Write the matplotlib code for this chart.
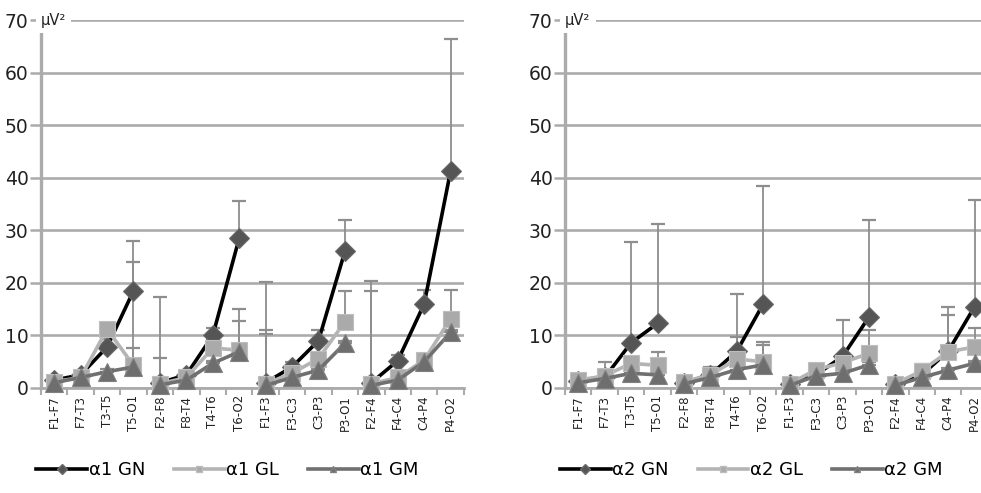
import numpy as np
import matplotlib
matplotlib.use("Agg")
import matplotlib.pyplot as plt
from matplotlib.lines import Line2D

plt.rcParams['font.family'] = ['DejaVu Sans']

pairs = ['F1-F7', 'F7-T3', 'T3-T5', 'T5-O1',
         'F2-F8', 'F8-T4', 'T4-T6', 'T6-O2',
         'F1-F3', 'F3-C3', 'C3-P3', 'P3-O1',
         'F2-F4', 'F4-C4', 'C4-P4', 'P4-O2']
groups = ['GN', 'GL', 'GM']

# alpha1 band, mean and upper error (muV^2)
a1_gn = [1.5, 2.5, 7.8, 18.5, 1.0, 2.5, 10.0, 28.5, 1.0, 4.0, 9.0, 26.0, 1.0, 5.2, 16.0, 41.3]
a1_gn_err = [0.8, 0.8, 1.5, 9.5, 16.4, 0.8, 1.5, 7.0, 19.2, 1.0, 2.0, 6.0, 19.3, 1.0, 2.6, 25.2]
a1_gl = [1.2, 2.0, 11.2, 4.3, 0.8, 2.0, 7.6, 7.2, 0.8, 2.8, 5.6, 12.6, 0.8, 2.0, 5.3, 13.2]
a1_gl_err = [0.8, 0.8, 0.5, 19.7, 4.9, 0.8, 1.5, 7.9, 10.3, 0.8, 1.0, 5.8, 17.7, 0.8, 1.0, 5.5]
a1_gm = [1.0, 2.0, 3.1, 4.0, 0.6, 1.5, 4.7, 6.9, 0.5, 2.0, 3.4, 8.5, 0.5, 1.5, 5.0, 10.6]
a1_gm_err = [0.5, 0.5, 0.5, 3.7, 0.5, 0.5, 0.5, 5.8, 9.7, 0.5, 0.5, 0.5, 0.5, 0.5, 0.5, 0.5]

# alpha2 band
a2_gn = [1.3, 2.0, 8.6, 12.3, 1.0, 2.5, 7.0, 16.0, 0.8, 2.5, 6.0, 13.5, 0.8, 2.5, 7.0, 15.5]
a2_gn_err = [0.8, 3.0, 19.1, 19.0, 0.8, 1.0, 10.8, 22.4, 0.8, 1.0, 7.0, 18.5, 0.8, 1.0, 8.5, 20.3]
a2_gl = [1.5, 2.3, 4.7, 4.3, 1.2, 2.5, 5.5, 5.0, 0.8, 3.5, 4.8, 6.6, 0.8, 3.3, 6.9, 7.8]
a2_gl_err = [0.5, 0.8, 1.0, 2.5, 0.5, 1.5, 4.2, 3.7, 0.5, 0.8, 1.0, 4.4, 0.5, 1.2, 6.9, 3.7]
a2_gm = [1.0, 1.8, 2.8, 2.5, 0.8, 2.0, 3.5, 4.4, 0.5, 2.3, 2.8, 4.4, 0.5, 2.0, 3.4, 4.7]
a2_gm_err = [0.5, 0.5, 0.5, 0.5, 0.5, 0.5, 0.5, 3.7, 0.5, 0.5, 0.5, 0.5, 0.5, 0.5, 0.5, 0.5]

styles = {
    'GN': dict(color='black', marker='D', mfc='#555555', mec='#6a6a6a', ms=10.5, lw=2.6),
    'GL': dict(color='#b4b4b4', marker='s', mfc='#aaaaaa', mec='#bdbdbd', ms=12, lw=2.6),
    'GM': dict(color='#707070', marker='^', mfc='#6e6e6e', mec='#808080', ms=13.5, lw=2.6),
}
grid_col = '#ababab'


def draw_panel(ax, band, series):
    x = np.arange(len(pairs))
    for g, (vals, err) in zip(groups, series):
        vals = np.array(vals)
        err = np.array(err)
        ax.errorbar(x, vals, yerr=[np.zeros_like(err), err], fmt='none',
                    ecolor='#8e8e8e', elinewidth=1.3, capsize=5, capthick=1.6,
                    zorder=2)
        st = styles[g]
        # lines are broken between the four electrode groups
        for k in range(0, len(pairs), 4):
            ax.plot(x[k:k + 4], vals[k:k + 4], color=st['color'], lw=st['lw'],
                    marker=st['marker'], markersize=st['ms'],
                    markerfacecolor=st['mfc'], markeredgecolor=st['mec'],
                    markeredgewidth=0.8, zorder=3, clip_on=False)

    ax.set_xlim(-0.5, len(pairs) - 0.5)
    ax.set_ylim(0, 70)
    ax.set_yticks(range(0, 71, 10))
    ax.set_xticks(x)
    ax.set_xticklabels(pairs, rotation=90, fontsize=8.5, color='#222222')
    ax.set_xticks(np.arange(-0.5, len(pairs), 1), minor=True)
    ax.tick_params(axis='x', which='major', length=0, pad=5)
    ax.tick_params(axis='x', which='minor', length=5, width=1.5, color=grid_col)
    ax.tick_params(axis='y', length=8, width=1.8, color=grid_col, labelsize=13.5,
                   labelcolor='#222222', pad=1)
    ax.grid(axis='y', color=grid_col, lw=1.9, zorder=0)
    ax.set_axisbelow(True)
    for s in ['top', 'right']:
        ax.spines[s].set_visible(False)
    ax.spines['left'].set_color(grid_col)
    ax.spines['left'].set_linewidth(2.4)
    ax.spines['bottom'].set_color(grid_col)
    ax.spines['bottom'].set_linewidth(2.0)
    ax.text(0.0, 1.0, 'μV²', transform=ax.transAxes, ha='left', va='center',
            fontsize=10.5, color='#222222', zorder=5,
            bbox=dict(boxstyle='square,pad=0.35', fc='white', ec='none'))

    handles = []
    for g in groups:
        st = styles[g]
        handles.append(Line2D([], [], color=st['color'], lw=st['lw'],
                              marker=st['marker'], markersize=5,
                              markerfacecolor=st['mfc'], markeredgecolor=st['mec']))
    return handles


fig = plt.figure(figsize=(9.81, 4.93), dpi=100)
ax1 = fig.add_axes([0.0418, 0.213, 0.431, 0.746])
ax2 = fig.add_axes([0.576, 0.213, 0.431, 0.746])

h1 = draw_panel(ax1, 'α1', [(a1_gn, a1_gn_err), (a1_gl, a1_gl_err), (a1_gm, a1_gm_err)])
h2 = draw_panel(ax2, 'α2', [(a2_gn, a2_gn_err), (a2_gl, a2_gl_err), (a2_gm, a2_gm_err)])

for h, band, xc in [(h1, 'α1', 0.232), (h2, 'α2', 0.766)]:
    fig.legend(h, [band + ' ' + g for g in groups], loc='center',
               bbox_to_anchor=(xc, 0.047), ncol=3, frameon=False, fontsize=13,
               handlelength=2.8, handletextpad=0.1, columnspacing=1.6)

fig.savefig('out.png', dpi=100)
